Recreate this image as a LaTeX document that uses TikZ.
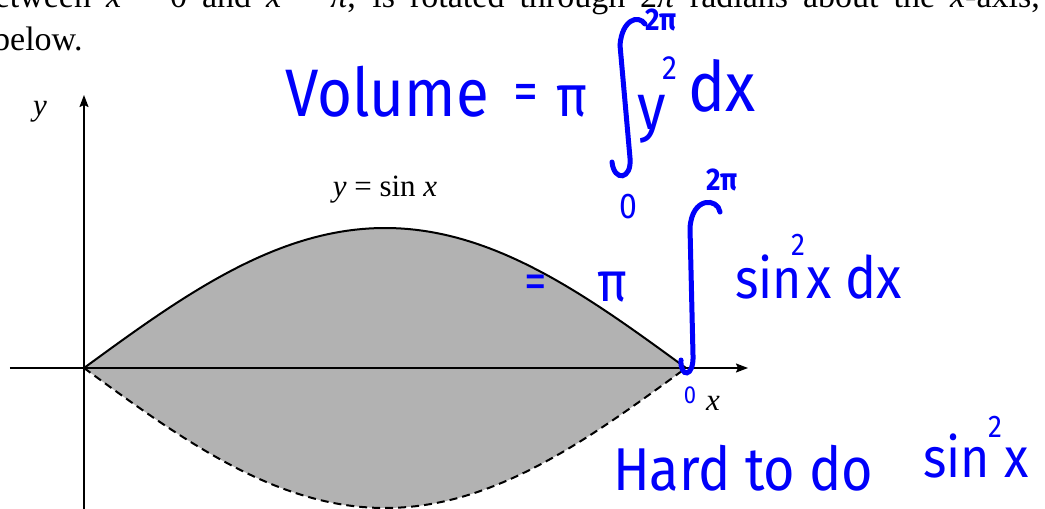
\documentclass[tikz,border=0pt]{standalone}
\usepackage{fontspec}
\setmainfont{Liberation Serif}
\newfontfamily\handfont{Fira Sans}
\usetikzlibrary{arrows.meta}
\definecolor{ink}{RGB}{0,0,250}
\definecolor{lensgray}{RGB}{178,178,178}

\tikzset{
  axis/.style={black, line width=1.7pt, -{Stealth[length=12pt, width=9pt, inset=2pt]}},
  book/.style={inner sep=0pt, font=\fontsize{31}{37}\selectfont},
  hand/.style={ink, inner sep=0pt, yscale=1.12},
  hook/.style={ink, line width=5pt, line cap=round}
}

\begin{document}
\begin{tikzpicture}[x=1pt, y=1pt]
    \useasboundingbox (-84,-141) rectangle (961,368);
    \clip (-84,-141) rectangle (961,368);

    %% --- printed question text, cut by the page edge ---
    \node[book, anchor=base east, font=\fontsize{34}{40}\selectfont] (line1) at (956,360)
        {\makebox[1062pt][s]{between \textit{x} = 0 and \textit{x} = \textit{π}, is rotated through 2\textit{π} radians about the \textit{x}-axis,}};
    \node[book, anchor=base west, font=\fontsize{34}{40}\selectfont] (line2) at (-91,317) {below.};

    %% --- shaded lens: y = sin x and its mirror ---
    \def\len{602}
    \def\amp{140}
    \fill[lensgray] plot[domain=0:\len, samples=90] (\x, {\amp*sin(\x/\len*180)})
        -- plot[domain=\len:0, samples=90] (\x, {-\amp*sin(\x/\len*180)}) -- cycle;
    \draw[black, line width=2pt] plot[domain=0:\len, samples=90] (\x, {\amp*sin(\x/\len*180)});
    \draw[black, line width=2pt, dash pattern=on 8pt off 5pt]
        plot[domain=0:\len, samples=90] (\x, {-\amp*sin(\x/\len*180)});

    %% --- axes ---
    \coordinate (O) at (0,0);
    \coordinate (xl) at (-74,0);
    \coordinate (xr) at (664,0);
    \coordinate (yb) at (0,-141);
    \coordinate (yt) at (0,273);
    \draw[axis] (xl) -- (xr);
    \draw[axis] (yb) -- (yt);

    \node[book] (ylab) at (-44,256) {\textit{y}};
    \node[book] (curve) at (301,178) {\textit{y} = sin \textit{x}};
    \node[book] (xlab) at (629,-35) {\textit{x}};

    %% --- handwriting: first line ---
    \node[hand, anchor=base west, font=\handfont\fontsize{60}{60}\selectfont] (vol) at (201,251) {Volume};
    \node[hand, font=\handfont\fontsize{50}{50}\selectfont] (eqA) at (442,271) {=};
    \node[hand, font=\handfont\fontsize{52}{52}\selectfont] (piA) at (488,266) {π};
    \draw[hook] (561,344) .. controls (554,354) and (538,348) .. (536,323)
        -- (546,210) .. controls (548,188) and (530,186) .. (528,206);
    \node[hand, font=\handfont\bfseries\fontsize{28}{28}\selectfont] (topA) at (577,348) {2π};
    \node[hand, font=\handfont\fontsize{32}{32}\selectfont] (lowA) at (544,161) {0};
    \node[hand, anchor=base west, font=\handfont\fontsize{58}{58}\selectfont] (yy) at (553,238) {y};
    \node[hand, font=\handfont\fontsize{30}{30}\selectfont] (sqA) at (586,300) {2};
    \node[hand, anchor=base west, font=\handfont\fontsize{62}{62}\selectfont] (dxA) at (604,256) {dx};

    %% --- handwriting: second line ---
    \node[hand, font=\handfont\fontsize{45}{45}\selectfont] (eqB) at (452,81) {=};
    \node[hand, font=\handfont\fontsize{50}{50}\selectfont] (piB) at (528,81) {π};
    \draw[hook] (636,156) .. controls (634,170) and (608,172) .. (606,140)
        -- (609,13) .. controls (610,-10) and (596,-10) .. (597,8);
    \node[hand, font=\handfont\bfseries\fontsize{28}{28}\selectfont] (topB) at (638,188) {2π};
    \node[hand, font=\handfont\fontsize{22}{22}\selectfont] (lowB) at (606,-27) {0};
    \node[hand, anchor=base west, font=\handfont\fontsize{50}{50}\selectfont] (sinB) at (651,70) {sin};
    \node[hand, font=\handfont\fontsize{28}{28}\selectfont] (sqB) at (714,123) {2};
    \node[hand, anchor=base west, font=\handfont\fontsize{52}{52}\selectfont] (dxB) at (722,70) {x dx};

    %% --- handwriting: remark ---
    \node[hand, anchor=base west, font=\handfont\fontsize{54}{54}\selectfont] (hard) at (529,-122) {Hard to do};
    \node[hand, anchor=base west, font=\handfont\fontsize{50}{50}\selectfont] (sinC) at (839,-109) {sin};
    \node[hand, font=\handfont\fontsize{28}{28}\selectfont] (sqC) at (911,-59) {2};
    \node[hand, anchor=base west, font=\handfont\fontsize{50}{50}\selectfont] (xC) at (920,-109) {x};
\end{tikzpicture}
\end{document}
